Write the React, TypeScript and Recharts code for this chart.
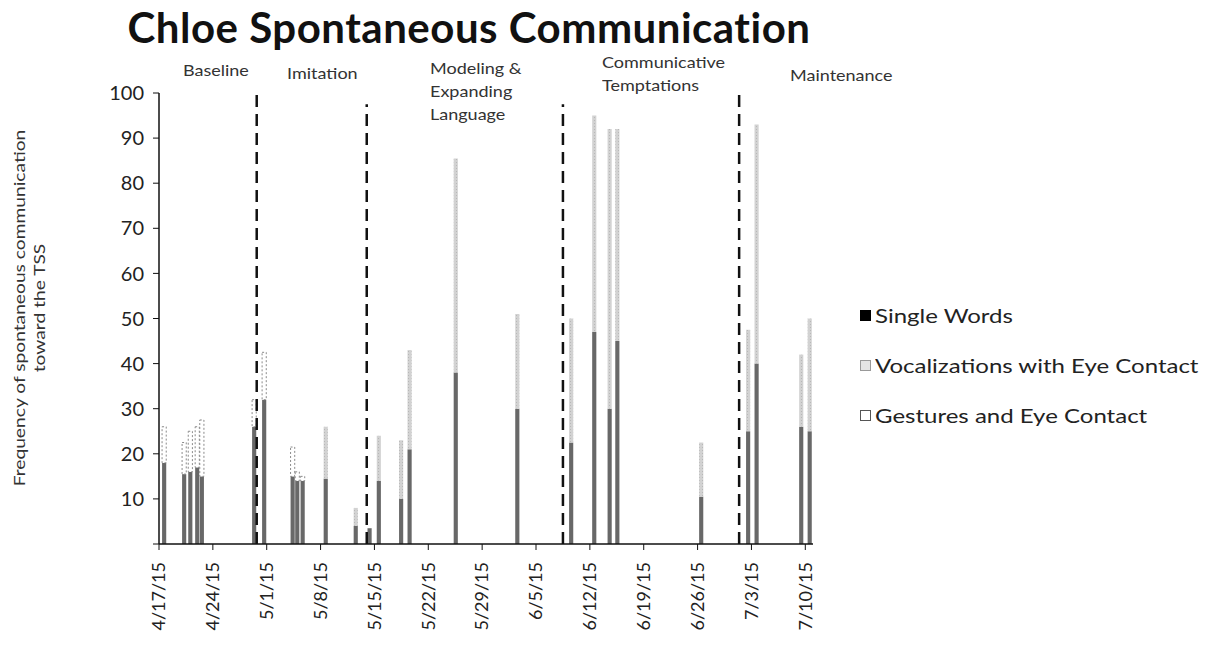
import React from 'react';
import { BarChart, Bar, XAxis, YAxis, ReferenceLine } from 'recharts';

// day offsets from 4/17/15 (bar centres)
const days = [0.7, 3.3, 4.1, 5.0, 5.6, 12.4, 13.7, 17.4, 18.0, 18.7, 21.7, 25.6, 27.4, 28.6, 31.5, 32.6, 38.6, 46.6, 53.6, 56.6, 58.6, 59.6, 70.5, 76.6, 77.7, 83.5, 84.6];
const singleWords = [18, 15.5, 16, 17, 15, 26, 32, 15, 14, 14, 14.5, 4, 3.5, 14, 10, 21, 38, 30, 22.5, 47, 30, 45, 10.5, 25, 40, 26, 25];
const vocalizations = [0, 0, 0, 0, 0, 0, 0, 0, 0, 0, 11.5, 4, 0, 10, 13, 22, 47.5, 21, 27.5, 48, 62, 47, 12, 22.5, 53, 16, 25];
const gestures = [8, 7, 9, 9, 12.5, 6, 10.5, 6.5, 2, 1, 0, 0, 0, 0, 0, 0, 0, 0, 0, 0, 0, 0, 0, 0, 0, 0, 0];

const tickLabels = ['4/17/15', '4/24/15', '5/1/15', '5/8/15', '5/15/15', '5/22/15', '5/29/15', '6/5/15', '6/12/15', '6/19/15', '6/26/15', '7/3/15', '7/10/15'];
const tickDays = tickLabels.map((_, i) => i * 7);
const yTicks = [0, 10, 20, 30, 40, 50, 60, 70, 80, 90, 100];

// phase change lines: [day, top value]
const phaseLines = [[12.7, 100], [27.0, 97.5], [52.5, 97.5], [75.4, 100]];

const data = days.map((d, i) => ({
  day: d,
  single: singleWords[i],
  vocal: vocalizations[i],
  gest: gestures[i],
}));

const FONT = 'Lato, "Open Sans", sans-serif';

const DateTick = ({ x, y, payload }: any) => {
  const label = tickLabels[Math.round(payload.value / 7)] ?? '';
  const ty = y + 10;
  return (
    <text x={x} y={ty} transform={`rotate(-90, ${x}, ${ty})`} textAnchor="end" dy="0.35em"
      fontSize={18} fill="#222" fontFamily={FONT}>
      {label}
    </text>
  );
};

const phaseText: { x: number; y: number; lines: string[] }[] = [
  { x: 183, y: 59, lines: ['Baseline'] },
  { x: 287, y: 62, lines: ['Imitation'] },
  { x: 430, y: 57, lines: ['Modeling &', 'Expanding', 'Language'] },
  { x: 602, y: 51, lines: ['Communicative', 'Temptations'] },
  { x: 790, y: 64, lines: ['Maintenance'] },
];

export default function App() {
  return (
    <div style={{ position: 'absolute', left: 0, top: 0, width: 1206, height: 652, background: '#fff', fontFamily: FONT }}>
      <div style={{ position: 'absolute', left: 0, width: 938, top: 2, textAlign: 'center', fontSize: 42, fontWeight: 700, letterSpacing: 0.5, color: '#111' }}>
        Chloe Spontaneous Communication
      </div>
      {phaseText.map((p, i) => (
        <div key={i} style={{
          position: 'absolute', left: p.x, top: p.y, fontSize: 15, lineHeight: '23px', color: '#333',
          transform: 'scaleX(1.2)', transformOrigin: 'left top', whiteSpace: 'nowrap',
        }}>
          {p.lines.map((l) => <div key={l}>{l}</div>)}
        </div>
      ))}
      <div style={{
        position: 'absolute', left: 29, top: 308, width: 440,
        transform: 'translate(-50%, -50%) rotate(-90deg) scaleX(1.2)',
        textAlign: 'center', fontSize: 16, lineHeight: '20px', color: '#333', whiteSpace: 'nowrap',
      }}>
        <div>Frequency of spontaneous communication</div>
        <div>toward the TSS</div>
      </div>
      <BarChart width={1206} height={652} data={data} margin={{ top: 93, right: 393, left: 0, bottom: 0 }}>
        <defs>
          <pattern id="vocPat" width="3" height="3" patternUnits="userSpaceOnUse">
            <rect width="3" height="3" fill="#d2d2d2" />
            <rect width="1" height="1" fill="#b8b8b8" />
          </pattern>
        </defs>
        <XAxis dataKey="day" type="number" domain={[0, 85]} ticks={tickDays} interval={0}
          height={108} tick={<DateTick />} tickSize={6} tickLine={{ stroke: '#111' }}
          axisLine={{ stroke: '#111', strokeWidth: 1.5 }} allowDataOverflow />
        <YAxis type="number" domain={[0, 100]} ticks={yTicks} width={159} interval={0}
          tickFormatter={(v: number) => (v === 0 ? '' : String(v))} tickSize={6}
          tick={{ fontSize: 20, fill: '#222', fontFamily: FONT, dx: -7 }}
          tickLine={{ stroke: '#111' }} axisLine={{ stroke: '#111', strokeWidth: 1.5 }} />
        <Bar dataKey="single" stackId="a" barSize={6} fill="#686868" isAnimationActive={false} />
        <Bar dataKey="vocal" stackId="a" barSize={6} fill="url(#vocPat)" isAnimationActive={false} />
        <Bar dataKey="gest" stackId="a" barSize={6} fill="#fff" stroke="#8a8a8a" strokeWidth={1}
          strokeDasharray="2 2" isAnimationActive={false} />
        {phaseLines.map(([d, top], i) => (
          <ReferenceLine key={i} segment={[{ x: d, y: 0 }, { x: d, y: top }]} stroke="#111"
            strokeWidth={2.5} strokeDasharray="12 7" ifOverflow="visible" />
        ))}
      </BarChart>
      <div style={{ position: 'absolute', left: 860, top: 302, fontSize: 20, color: '#222', lineHeight: '26px' }}>
        {[
          { label: 'Single Words', box: { background: '#000', border: '1px solid #000' } },
          { label: 'Vocalizations with Eye Contact', box: { background: '#e4e4e4', border: '1px solid #999' } },
          { label: 'Gestures and Eye Contact', box: { background: '#fff', border: '1.5px solid #555' } },
        ].map((it, i) => (
          <div key={i} style={{ display: 'flex', alignItems: 'center', height: 26, marginBottom: 24 }}>
            <span style={{ display: 'inline-block', width: 9, height: 9, marginRight: 4, ...it.box }} />
            <span style={{ display: 'inline-block', transform: 'scaleX(1.2)', transformOrigin: 'left center', whiteSpace: 'nowrap' }}>{it.label}</span>
          </div>
        ))}
      </div>
    </div>
  );
}
